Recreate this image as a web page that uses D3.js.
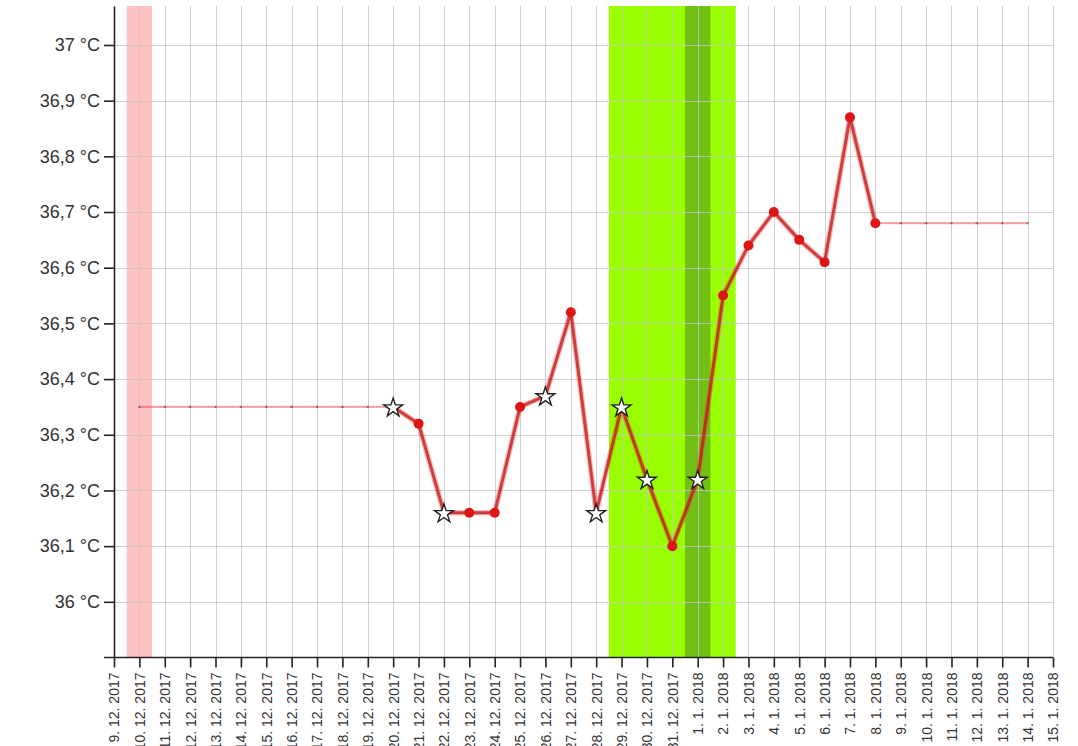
<!DOCTYPE html>
<html>
<head>
<meta charset="utf-8">
<script src="https://cdn.jsdelivr.net/npm/d3@7"></script>
<style>
  html, body { margin: 0; padding: 0; background: #fff; }
  svg { display: block; font-family: "Liberation Sans", Arial, sans-serif; }
</style>
</head>
<body>
<svg id="chart" width="1078" height="746"></svg>
<script>
// ---- data ----
const dates = ["2017-12-20","2017-12-21","2017-12-22","2017-12-23","2017-12-24","2017-12-25","2017-12-26","2017-12-27","2017-12-28","2017-12-29","2017-12-30","2017-12-31","2018-01-01","2018-01-02","2018-01-03","2018-01-04","2018-01-05","2018-01-06","2018-01-07","2018-01-08"];
const temps = [36.35,36.32,36.16,36.16,36.16,36.35,36.37,36.52,36.16,36.35,36.22,36.10,36.22,36.55,36.64,36.70,36.65,36.61,36.87,36.68];
const markers = ["star","dot","star","dot","dot","dot","star","dot","star","star","star","dot","star","dot","dot","dot","dot","dot","dot","dot"];
const extStartDates = ["2017-12-10","2017-12-20"];
const extStartTemp = 36.35;
const extEndDates = ["2018-01-08","2018-01-14"];
const extEndTemp = 36.68;
const pinkDays = ["2017-12-10","2017-12-10"];
const greenDays = ["2017-12-29","2018-01-02"];
const darkGreenDays = ["2018-01-01","2018-01-01"];
const axisStart = "2017-12-09";
const axisEnd = "2018-01-15";
const yTicks = [36.0,36.1,36.2,36.3,36.4,36.5,36.6,36.7,36.8,36.9,37.0];
const yDomain = [35.9, 37.07];

// ---- setup ----
const parse = d3.utcParse("%Y-%m-%d");
const DAY = 86400000;
const svg = d3.select("#chart");
const mLeft = 114, mRight = 1053, mTop = 6, mBottom = 657.5;

const x = d3.scaleUtc().domain([parse(axisStart), parse(axisEnd)]).range([mLeft, mRight]);
const y = d3.scaleLinear().domain(yDomain).range([mBottom, mTop]);

const dayTicks = d3.utcDay.range(parse(axisStart), new Date(+parse(axisEnd) + 1));
const fmtDate = d => `${d.getUTCDate()}. ${d.getUTCMonth() + 1}. ${d.getUTCFullYear()}`;
const fmtTemp = v => String(+v.toFixed(1)).replace(".", ",") + " \u00B0C";

// ---- bands ----
function band(range, color) {
  const a = new Date(+parse(range[0]) - DAY / 2);
  const b = new Date(+parse(range[1]) + DAY / 2);
  svg.append("rect")
    .attr("x", x(a)).attr("y", mTop)
    .attr("width", x(b) - x(a)).attr("height", mBottom - mTop)
    .attr("fill", color);
}
band(pinkDays, "#ffc2c2");
band(greenDays, "#99ff00");
band(darkGreenDays, "#72c016");

// ---- grid ----
const grid = svg.append("g").attr("stroke", "#c4c4c4").attr("stroke-opacity", 0.8).attr("stroke-width", 1);
grid.selectAll("line.v").data(dayTicks).join("line").attr("class", "v")
  .attr("x1", d => Math.round(x(d)) + 0.5).attr("x2", d => Math.round(x(d)) + 0.5)
  .attr("y1", mTop).attr("y2", mBottom);
grid.selectAll("line.h").data(yTicks).join("line").attr("class", "h")
  .attr("x1", mLeft).attr("x2", mRight)
  .attr("y1", d => Math.round(y(d)) + 0.5).attr("y2", d => Math.round(y(d)) + 0.5);

// ---- axes ----
const yAxis = d3.axisLeft(y).tickValues(yTicks).tickFormat(fmtTemp).tickSize(10).tickSizeOuter(0).tickPadding(4);
const gy = svg.append("g").attr("transform", `translate(${mLeft},0)`).call(yAxis);
gy.attr("font-size", 18);
gy.selectAll("text").attr("font-size", 18).attr("fill", "#333").attr("font-family", "Liberation Sans, Arial, sans-serif");
gy.selectAll("line, path").attr("stroke", "#222").attr("stroke-width", 1.6);

const xAxis = d3.axisBottom(x).tickValues(dayTicks).tickFormat(fmtDate).tickSize(10).tickSizeOuter(0);
const gx = svg.append("g").attr("transform", `translate(0,${mBottom})`).call(xAxis);
gx.selectAll("line, path").attr("stroke", "#222").attr("stroke-width", 1.6);
gx.select("path.domain").attr("d", `M${mLeft - 10},0H${mRight}`);
gx.selectAll("text")
  .attr("font-size", 14).attr("fill", "#333").attr("font-family", "Liberation Sans, Arial, sans-serif")
  .attr("text-anchor", "end")
  .attr("transform", "rotate(-90)")
  .attr("x", -15).attr("y", 0).attr("dy", "0.35em");

// ---- extension lines ----
function ext(range, t) {
  const days = d3.utcDay.range(parse(range[0]), new Date(+parse(range[1]) + 1));
  svg.append("line")
    .attr("x1", x(parse(range[0]))).attr("x2", x(parse(range[1])))
    .attr("y1", y(t)).attr("y2", y(t))
    .attr("stroke", "rgba(230,60,60,0.4)").attr("stroke-width", 2.2);
  svg.append("line")
    .attr("x1", x(parse(range[0]))).attr("x2", x(parse(range[1])))
    .attr("y1", y(t)).attr("y2", y(t))
    .attr("stroke", "rgba(170,30,30,0.35)").attr("stroke-width", 1).attr("stroke-dasharray", "1,2");
  svg.append("g").selectAll("circle").data(days).join("circle")
    .attr("cx", d => x(d)).attr("cy", y(t)).attr("r", 1.2)
    .attr("fill", "rgba(160,40,40,0.6)");
}
ext(extStartDates, extStartTemp);
ext(extEndDates, extEndTemp);

// ---- main line ----
const pts = dates.map((d, i) => ({ date: parse(d), t: temps[i], m: markers[i] }));
const line = d3.line().x(d => x(d.date)).y(d => y(d.t));
svg.append("path").datum(pts).attr("d", line)
  .attr("fill", "none").attr("stroke", "rgba(240,60,60,0.35)").attr("stroke-width", 5.5).attr("stroke-linejoin", "round");
svg.append("path").datum(pts).attr("d", line)
  .attr("fill", "none").attr("stroke", "rgba(190,20,20,0.75)").attr("stroke-width", 3).attr("stroke-linejoin", "round");

svg.append("g").selectAll("circle").data(pts.filter(p => p.m === "dot")).join("circle")
  .attr("cx", d => x(d.date)).attr("cy", d => y(d.t)).attr("r", 5)
  .attr("fill", "#dd1515");

const star = d3.symbol().type(d3.symbolStar).size(110);
svg.append("g").selectAll("path").data(pts.filter(p => p.m === "star")).join("path")
  .attr("transform", d => `translate(${x(d.date)},${y(d.t) + 1})`)
  .attr("d", star)
  .attr("fill", "#fff").attr("stroke", "#222").attr("stroke-width", 1.4).attr("stroke-linejoin", "miter");
</script>
</body>
</html>
